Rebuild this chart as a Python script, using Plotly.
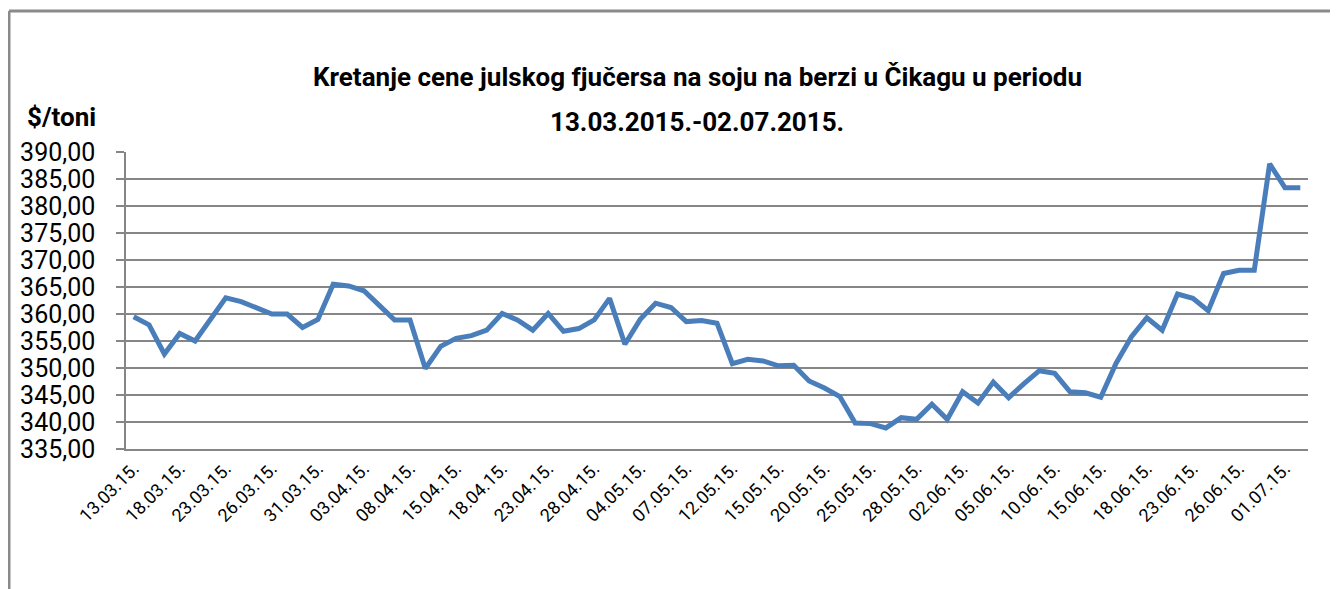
import plotly.graph_objects as go

# ---- data ----
dates = [
    "13.03.15.", "16.03.15.", "17.03.15.", "18.03.15.", "19.03.15.", "20.03.15.",
    "23.03.15.", "24.03.15.", "25.03.15.", "26.03.15.", "27.03.15.", "30.03.15.",
    "31.03.15.", "01.04.15.", "02.04.15.", "03.04.15.", "06.04.15.", "07.04.15.",
    "08.04.15.", "10.04.15.", "14.04.15.", "15.04.15.", "16.04.15.", "17.04.15.",
    "18.04.15.", "21.04.15.", "22.04.15.", "23.04.15.", "24.04.15.", "27.04.15.",
    "28.04.15.", "29.04.15.", "30.04.15.", "04.05.15.", "05.05.15.", "06.05.15.",
    "07.05.15.", "08.05.15.", "11.05.15.", "12.05.15.", "13.05.15.", "14.05.15.",
    "15.05.15.", "18.05.15.", "19.05.15.", "20.05.15.", "21.05.15.", "22.05.15.",
    "25.05.15.", "26.05.15.", "27.05.15.", "28.05.15.", "29.05.15.", "01.06.15.",
    "02.06.15.", "03.06.15.", "04.06.15.", "05.06.15.", "08.06.15.", "09.06.15.",
    "10.06.15.", "11.06.15.", "12.06.15.", "15.06.15.", "16.06.15.", "17.06.15.",
    "18.06.15.", "19.06.15.", "22.06.15.", "23.06.15.", "24.06.15.", "25.06.15.",
    "26.06.15.", "29.06.15.", "30.06.15.", "01.07.15.", "02.07.15.",
]
prices = [
    359.5, 358.0, 352.6, 356.4, 355.0, 359.2, 363.0, 362.3, 361.2, 360.0,
    360.0, 357.5, 359.0, 365.5, 365.2, 364.3, 361.6, 358.9, 358.9, 349.9,
    354.0, 355.5, 356.0, 357.0, 360.1, 358.9, 357.0, 360.1, 356.8, 357.3,
    358.9, 362.9, 354.4, 359.0, 362.0, 361.2, 358.6, 358.8, 358.3, 350.8,
    351.6, 351.3, 350.4, 350.5, 347.6, 346.3, 344.7, 339.8, 339.7, 338.9,
    340.8, 340.5, 343.3, 340.5, 345.6, 343.5, 347.4, 344.5, 347.1, 349.5,
    349.0, 345.6, 345.4, 344.6, 350.9, 355.8, 359.3, 357.0, 363.7, 362.9,
    360.6, 367.5, 368.1, 368.1, 387.8, 383.4, 383.4,
]
tick_labels = dates[::3]
title_line1 = "Kretanje cene julskog fjučersa na soju na berzi u Čikagu u periodu"
title_line2 = "13.03.2015.-02.07.2015."
y_unit = "$/toni"

FONT = "Roboto, Arial, sans-serif"
GRID = "#868686"

fig = go.Figure()
fig.add_trace(go.Scatter(
    x=dates, y=prices, mode="lines",
    line=dict(color="#4A7EBB", width=5),
    showlegend=False,
))

OFF = 8  # page body margin
W, H = 1338 - OFF, 589 - OFF
# target pixel positions in the screenshot
PL, PR, PT, PB = 126, 1308, 152, 449
L, T = PL - OFF, PT - OFF
R = W - (PR - OFF)
B = H - (PB - OFF)
pw, ph = W - L - R, H - T - B


def px(xp):
    return (xp - PL) / pw


def py(yp):
    return (PB - yp) / ph


border = dict(color="#8a8a8a", width=3)
fig.update_layout(
    width=W, height=H,
    margin=dict(l=L, r=R, t=T, b=B, autoexpand=False),
    paper_bgcolor="white", plot_bgcolor="white",
    separators=", ",
    font=dict(family=FONT, color="black"),
    xaxis=dict(
        type="category", range=[-0.5, len(dates) - 0.5],
        tickmode="array", tickvals=tick_labels, ticktext=tick_labels,
        tickangle=-45, tickfont=dict(size=18, family=FONT),
        showgrid=False, showline=True, linecolor=GRID, linewidth=2,
        ticks="", zeroline=False,
    ),
    yaxis=dict(
        range=[335, 390], dtick=5, tick0=335, tickformat=".2f",
        showgrid=True, gridcolor=GRID, gridwidth=2,
        showline=True, linecolor=GRID, linewidth=1.5,
        ticks="outside", ticklen=8, tickcolor=GRID, tickwidth=2,
        tickfont=dict(size=25, family=FONT), ticklabelstandoff=16,
        zeroline=False,
    ),
    shapes=[
        dict(type="line", xref="paper", yref="paper",
             x0=px(9), x1=px(1420), y0=py(11), y1=py(11), line=border, layer="below"),
        dict(type="line", xref="paper", yref="paper",
             x0=px(9), x1=px(9), y0=py(11), y1=py(640), line=border, layer="below"),
    ],
    annotations=[
        dict(text="<b>" + title_line1 + "</b>", xref="paper", yref="paper",
             x=px(697), y=py(77), xanchor="center", yanchor="middle",
             showarrow=False, font=dict(size=26, family=FONT)),
        dict(text="<b>" + title_line2 + "</b>", xref="paper", yref="paper",
             x=px(697), y=py(122), xanchor="center", yanchor="middle",
             showarrow=False, font=dict(size=26, family=FONT)),
        dict(text="<b>" + y_unit + "</b>", xref="paper", yref="paper",
             x=px(25), y=py(117), xanchor="left", yanchor="middle",
             showarrow=False, font=dict(size=26, family=FONT)),
    ],
)

fig.write_html("out.html")
